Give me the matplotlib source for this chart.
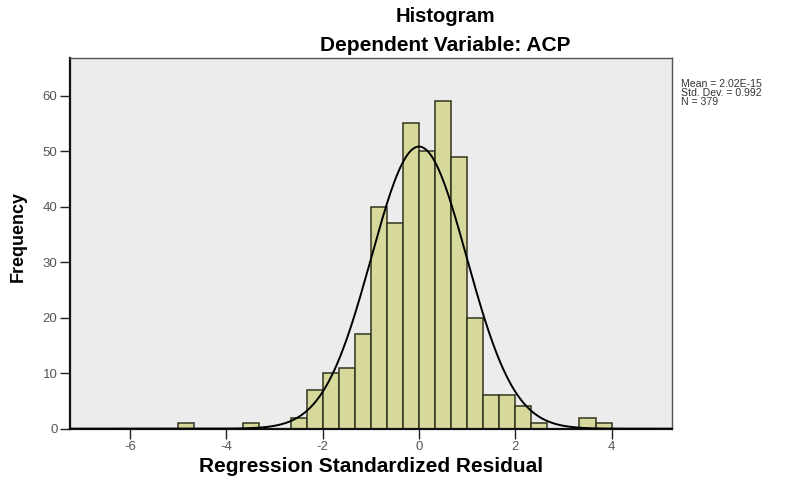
import numpy as np
import matplotlib
matplotlib.use("Agg")
import matplotlib.pyplot as plt

# ------------------------------------------------------------
# data (bin width = 1/3)
# ------------------------------------------------------------
bin_left = [-5.0, -11 / 3, -8 / 3, -7 / 3, -2.0, -5 / 3, -4 / 3, -1.0, -2 / 3, -1 / 3,
            0.0, 1 / 3, 2 / 3, 1.0, 4 / 3, 5 / 3, 2.0, 7 / 3, 10 / 3, 11 / 3]
counts = [1, 1, 2, 7, 10, 11, 17, 40, 37, 55,
          50, 59, 49, 20, 6, 6, 4, 1, 2, 1]
bin_width = 1 / 3

mean = 2.02e-15
std = 0.992
n_obs = 379

x_ticks = [-6, -4, -2, 0, 2, 4]
y_ticks = [0, 10, 20, 30, 40, 50, 60]

# ------------------------------------------------------------
# figure
# ------------------------------------------------------------
plt.rcParams["font.family"] = ["Liberation Sans", "DejaVu Sans"]

fig = plt.figure(figsize=(8.04, 4.8), dpi=100)
fig.patch.set_facecolor("white")
ax = fig.add_axes([0.0871, 0.1069, 0.7484, 0.7716])
ax.set_facecolor("#ececec")

ax.bar(bin_left, counts, width=bin_width, align="edge",
       color="#d6d99b", edgecolor="#33331f", linewidth=1.1, zorder=2)

# normal curve scaled to counts
xs = np.linspace(-7.25, 5.25, 600)
ys = n_obs * bin_width / (std * np.sqrt(2 * np.pi)) * np.exp(-0.5 * ((xs - mean) / std) ** 2)
ax.plot(xs, ys, color="black", linewidth=1.4, zorder=3)

ax.set_xlim(-7.25, 5.25)
ax.set_ylim(0, 66.7)
ax.set_xticks(x_ticks)
ax.set_yticks(y_ticks)
ax.set_xticklabels([str(t) for t in x_ticks], fontsize=9.5, color="#555555")
ax.set_yticklabels([str(t) for t in y_ticks], fontsize=9.5, color="#555555")
ax.tick_params(direction="out", length=7, width=1.0, color="#222222", pad=2)

for side in ("left", "bottom"):
    ax.spines[side].set_linewidth(1.6)
    ax.spines[side].set_color("#111111")
for side in ("top", "right"):
    ax.spines[side].set_linewidth(1.0)
    ax.spines[side].set_color("#555555")

ax.set_xlabel("Regression Standardized Residual", fontsize=15, fontweight="bold", labelpad=3)
ax.set_ylabel("Frequency", fontsize=13, fontweight="bold")
ax.yaxis.set_label_coords(-0.072, 0.52)

fig.text(0.5535, 0.965, "Histogram", ha="center", va="center",
         fontsize=14.5, fontweight="bold")
fig.text(0.5535, 0.905, "Dependent Variable: ACP", ha="center", va="center",
         fontsize=15, fontweight="bold")

fig.text(0.847, 0.806, f"Mean = {mean:.2E}\nStd. Dev. = {std}\nN = {n_obs}",
         ha="left", va="center", fontsize=7.6, color="#333333", linespacing=0.88)

fig.savefig("out.png", dpi=100)
